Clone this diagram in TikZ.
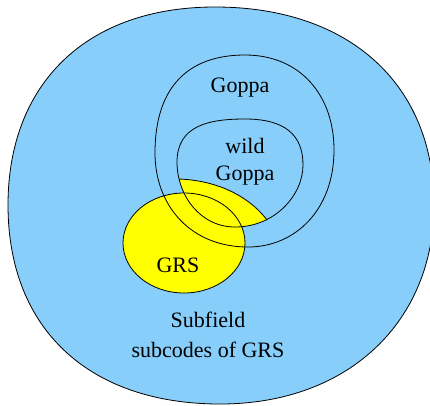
\documentclass[tikz,border=0pt]{standalone}
\usepackage{fontspec}
\setmainfont{Liberation Serif}
\definecolor{skyfill}{RGB}{135,206,250}
\definecolor{grsfill}{RGB}{255,255,0}
\newcommand\wildgoppapath{(177,162) .. controls (177,125) and (210,119) .. (245,119)
  .. controls (285,119) and (303,135) .. (303,165)
  .. controls (303,195) and (275,227) .. (235,227)
  .. controls (200,227) and (177,195) .. (177,162) -- cycle}
\begin{document}
\begin{tikzpicture}[x=1pt,y=-1pt,
  outline/.style={draw=black,line width=0.8pt},
  lbl/.style={font=\fontsize{22}{27}\selectfont, inner sep=0pt, align=center}]
\useasboundingbox (0,0) rectangle (430,405);
\clip (0,0) rectangle (430,405);
% outer region: subfield subcodes of GRS
\path[fill=skyfill, outline] (8,205) .. controls (8,85) and (85,7) .. (215,7)
  .. controls (350,7) and (434,85) .. (434,205)
  .. controls (434,320) and (350,404) .. (220,404)
  .. controls (90,404) and (8,330) .. (8,205) -- cycle;
% GRS ellipse fill
\fill[grsfill] (184,243) ellipse [x radius=61, y radius=50];
% part of wild Goppa inside GRS
\begin{scope}
  \clip \wildgoppapath;
  \fill[grsfill] (160,179) -- (178,179) .. controls (215,180) and (250,195) .. (270,224)
    -- (290,250) -- (160,250) -- cycle;
  \draw[outline] (160,179) -- (178,179) .. controls (215,180) and (250,195) .. (270,224)
    -- (290,250);
\end{scope}
\draw[outline] (184,243) ellipse [x radius=61, y radius=50];
% Goppa
\draw[outline] (155,153) .. controls (155,85) and (190,55) .. (245,55)
  .. controls (300,55) and (334,95) .. (334,150)
  .. controls (334,210) and (295,247) .. (248,247)
  .. controls (190,247) and (155,205) .. (155,153) -- cycle;
% wild Goppa
\draw[outline] \wildgoppapath;
% labels
\node[lbl, anchor=base] (goppa) at (240,92) {Goppa};
\node[lbl, anchor=base] (wild) at (245,180) {wild\\Goppa};
\node[lbl, anchor=base] (grs) at (178,272) {GRS};
\node[lbl, anchor=north, font=\fontsize{22}{30}\selectfont] (sub) at (208,312) {Subfield\\subcodes of GRS};
\end{tikzpicture}
\end{document}
